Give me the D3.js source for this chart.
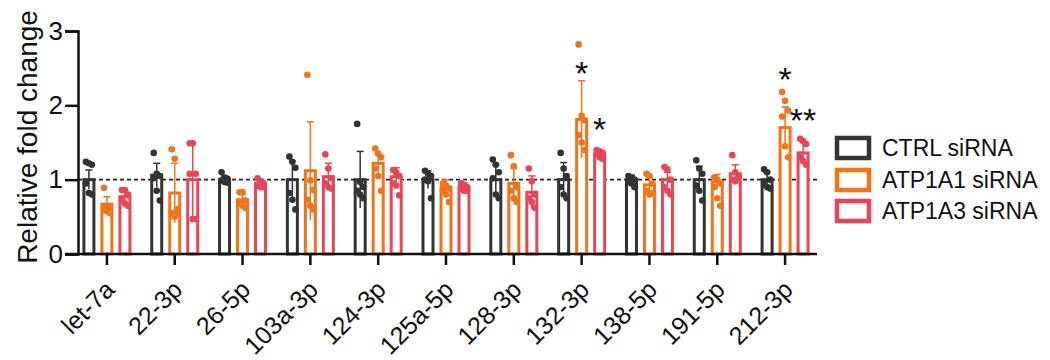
<!DOCTYPE html>
<html>
<head>
<meta charset="utf-8">
<script src="https://cdn.jsdelivr.net/npm/d3@7"></script>
<style>
  body { margin: 0; background: #fff; }
  svg { display: block; font-family: Arial, "Liberation Sans", Helvetica, sans-serif; }
</style>
</head>
<body>
<svg id="chart" width="1050" height="360"></svg>
<script>
"use strict";

// categories (miRNA names)
var categories = ["let-7a", "22-3p", "26-5p", "103a-3p", "124-3p", "125a-5p",
                  "128-3p", "132-3p", "138-5p", "191-5p", "212-3p"];

var groups = ["CTRL siRNA", "ATP1A1 siRNA", "ATP1A3 siRNA"];
var colors = ["#333333", "#f27318", "#eb4459"];

// bar means
var ctrlMean = [1.0, 1.06, 1.0, 1.0, 1.0, 1.0, 1.0, 1.0, 1.0, 1.0, 1.0];
var a1Mean   = [0.67, 0.82, 0.73, 1.12, 1.22, 0.9, 0.95, 1.81, 0.93, 0.97, 1.7];
var a3Mean   = [0.77, 1.0, 0.95, 1.04, 1.04, 0.9, 0.83, 1.34, 1.0, 1.08, 1.36];

// error bars (SD)
var ctrlSD = [0.13, 0.16, 0.05, 0.25, 0.38, 0.12, 0.2, 0.23, 0.06, 0.18, 0.1];
var a1SD   = [0.1, 0.4, 0.08, 0.66, 0.13, 0.1, 0.2, 0.52, 0.1, 0.1, 0.28];
var a3SD   = [0.08, 0.5, 0.05, 0.18, 0.12, 0.06, 0.22, 0.04, 0.1, 0.12, 0.15];

// individual replicates
var ctrlDots = [
  [1.24, 1.22, 1.2, 0.95, 0.82, 0.8],
  [1.36, 1.08, 1.05, 1.02, 0.85, 0.72],
  [1.1, 1.03, 1.01, 0.99, 0.97, 0.96],
  [1.31, 1.24, 1.16, 0.82, 0.73, 0.6],
  [1.75, 0.97, 0.9, 0.85, 0.8, 0.75],
  [1.12, 1.08, 1.05, 1.0, 0.98, 0.75],
  [1.27, 1.2, 1.1, 1.02, 0.8, 0.75],
  [1.36, 1.15, 1.05, 0.9, 0.8, 0.75],
  [1.05, 1.03, 1.0, 0.98, 0.95, 0.9],
  [1.26, 1.15, 1.08, 0.92, 0.85, 0.72],
  [1.14, 1.1, 1.0, 0.95, 0.9, 0.88]
];
var a1Dots = [
  [0.89, 0.65, 0.62, 0.6, 0.58, 0.55],
  [1.41, 1.28, 0.6, 0.55, 0.5, 0.55],
  [0.83, 0.83, 0.72, 0.68, 0.65, 0.62],
  [2.41, 0.99, 0.86, 0.73, 0.65, 0.6],
  [1.42, 1.35, 1.3, 1.15, 1.05, 0.85],
  [0.95, 0.92, 0.88, 0.85, 0.8, 0.7],
  [1.33, 1.18, 0.9, 0.85, 0.75, 0.7],
  [2.82, 1.86, 1.8, 1.6, 1.5, 1.4],
  [1.08, 1.05, 0.95, 0.85, 0.8, 0.82],
  [1.03, 1.0, 0.95, 0.9, 0.75, 0.65],
  [2.18, 2.06, 1.93, 1.85, 1.45, 1.3]
];
var a3Dots = [
  [0.86, 0.86, 0.8, 0.72, 0.68, 0.65],
  [1.49, 1.49, 1.08, 1.08, 0.47, 0.47],
  [1.02, 0.98, 0.95, 0.92, 0.9, 0.9],
  [1.34, 1.15, 1.02, 0.95, 0.9, 0.88],
  [1.13, 1.1, 1.05, 0.95, 0.92, 0.79],
  [0.95, 0.92, 0.9, 0.88, 0.85, 0.85],
  [1.15, 0.98, 0.8, 0.75, 0.7, 0.62],
  [1.4, 1.38, 1.36, 1.35, 1.3, 1.28],
  [1.17, 1.14, 1.0, 0.9, 0.85, 0.8],
  [1.33, 1.1, 1.05, 1.0, 0.98, 1.02],
  [1.55, 1.52, 1.48, 1.3, 1.25, 1.2]
];

// significance marks: category, group index, label, value where it sits
var starCats   = ["132-3p", "132-3p", "212-3p", "212-3p"];
var starGroups = [1, 2, 1, 2];
var starText   = ["*", "*", "*", "**"];
var starValue  = [2.54, 1.78, 2.46, 1.9];

var yTicks = [0, 1, 2, 3];

var means = [ctrlMean, a1Mean, a3Mean];
var sds = [ctrlSD, a1SD, a3SD];
var dots = [ctrlDots, a1Dots, a3Dots];

var svg = d3.select("#chart");

var x = d3.scaleBand().domain(categories).range([73, 819]);
var y = d3.scaleLinear().domain([0, 3]).range([254, 31]);
var groupOffset = d3.scalePoint().domain([0, 1, 2]).range([-18, 18]);

var barW = 10;

function cx(ci, g) {
    return x(categories[ci]) + x.bandwidth() / 2 + groupOffset(g);
}

// reference line at 1
svg.append("line")
    .attr("x1", 78).attr("x2", 817)
    .attr("y1", y(1)).attr("y2", y(1))
    .attr("stroke", "#222")
    .attr("stroke-width", 1.7)
    .attr("stroke-dasharray", "4,3");

// bars, error bars and dots
for (var g = 0; g < 3; g++) {
    var layer = svg.append("g").attr("class", "group" + g);
    for (var ci = 0; ci < categories.length; ci++) {
        var c = cx(ci, g);
        var m = means[g][ci];
        var s = sds[g][ci];

        layer.append("rect")
            .attr("x", c - barW / 2)
            .attr("y", y(m))
            .attr("width", barW)
            .attr("height", y(0) - y(m))
            .attr("fill", "#fff")
            .attr("stroke", colors[g])
            .attr("stroke-width", 3);

        // error bar
        layer.append("line")
            .attr("x1", c).attr("x2", c)
            .attr("y1", y(m - s)).attr("y2", y(m + s))
            .attr("stroke", colors[g])
            .attr("stroke-width", 1.5);
        layer.append("line")
            .attr("x1", c - 3.5).attr("x2", c + 3.5)
            .attr("y1", y(m + s)).attr("y2", y(m + s))
            .attr("stroke", colors[g])
            .attr("stroke-width", 1.5);

        layer.selectAll(null)
            .data(dots[g][ci])
            .enter()
            .append("circle")
            .attr("cx", function (d, i) { return c + ((i % 3) - 1) * 3; })
            .attr("cy", function (d) { return y(d); })
            .attr("r", 3.3)
            .attr("fill", colors[g]);
    }
}

// significance stars
var starSize = 34;
for (var k = 0; k < starCats.length; k++) {
    svg.append("text")
        .attr("x", cx(categories.indexOf(starCats[k]), starGroups[k]))
        .attr("y", y(starValue[k]) + starSize * 0.58)
        .attr("text-anchor", "middle")
        .attr("font-size", starSize)
        .attr("fill", "#111")
        .text(starText[k]);
}

// y axis
var yAxis = svg.append("g")
    .attr("transform", "translate(78,0)")
    .call(d3.axisLeft(y).tickValues(yTicks).tickSize(13).tickPadding(2).tickFormat(d3.format("d")));
yAxis.select(".domain").attr("stroke", "#111").attr("stroke-width", 2.5);
yAxis.selectAll(".tick line").attr("stroke", "#111").attr("stroke-width", 2.5);
yAxis.selectAll(".tick text")
    .attr("font-size", 26)
    .attr("fill", "#111")
    .attr("font-family", "Arial, 'Liberation Sans', sans-serif");

// x axis
svg.append("line")
    .attr("x1", 65).attr("x2", 817)
    .attr("y1", y(0)).attr("y2", y(0))
    .attr("stroke", "#111")
    .attr("stroke-width", 2.5);

var xAxis = svg.append("g")
    .attr("transform", "translate(0," + y(0) + ")")
    .call(d3.axisBottom(x).tickSize(11).tickPadding(0));
xAxis.select(".domain").remove();
xAxis.selectAll(".tick line").attr("stroke", "#111").attr("stroke-width", 2.5);
xAxis.selectAll(".tick text")
    .attr("x", 0)
    .attr("y", 0)
    .attr("font-size", 25)
    .attr("fill", "#111")
    .attr("font-family", "Arial, 'Liberation Sans', sans-serif")
    .attr("text-anchor", "end")
    .attr("dy", "0.35em")
    .attr("transform", "translate(3,31) rotate(-45)");

// y axis title
svg.append("text")
    .attr("transform", "translate(27,137) rotate(-90)")
    .attr("text-anchor", "middle")
    .attr("dominant-baseline", "central")
    .attr("font-size", 28)
    .attr("fill", "#111")
    .text("Relative fold change");

// legend
var legend = svg.append("g").attr("transform", "translate(837,0)");
var legendY = [148, 180, 211];
groups.forEach(function (name, i) {
    legend.append("rect")
        .attr("x", 0)
        .attr("y", legendY[i] - 10)
        .attr("width", 32)
        .attr("height", 20)
        .attr("fill", "#fff")
        .attr("stroke", colors[i])
        .attr("stroke-width", 4.5);
    legend.append("text")
        .attr("x", 45)
        .attr("y", legendY[i])
        .attr("dominant-baseline", "central")
        .attr("font-size", 23)
        .attr("fill", "#111")
        .text(name);
});
</script>
</body>
</html>
